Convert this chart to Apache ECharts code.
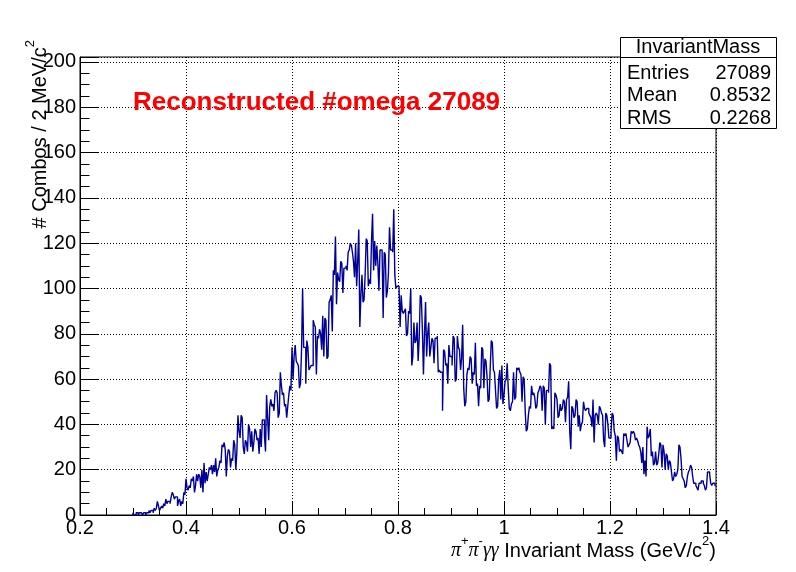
<!DOCTYPE html>
<html><head><meta charset="utf-8">
<script src="https://cdn.jsdelivr.net/npm/echarts@6/dist/echarts.min.js"></script>
<style>html,body{margin:0;padding:0;background:#fff}#c{width:796px;height:572px}</style>
</head><body><div id="c"></div>
<script>
// Histogram: 2 MeV bins starting at 0.300 GeV
const binStart = 0.300;
const binWidth = 0.002;
const counts_030_040 = [1,0,0,1,1,0,1,1,1,0, 1,1,0,1,1,2,1,2,2,1, 3,2,3,6,4,2,3,4,3,5, 4,7,5,6,6,5,8,10,9,7, 8,8,4,6,7,4,6,5,10,9];
const counts_040_050 = [16,12,11,13,12,16,15,17,10,13, 18,15,18,17,12,20,10,23,14,19, 15,18,21,20,22,18,22,19,25,17, 20,21,24,23,31,30,32,29,17,26, 29,28,21,25,24,33,31,20,28,44];
const counts_050_060 = [37,34,44,43,30,27,33,32,28,40, 38,30,37,28,32,38,37,33,34,27, 38,30,42,42,35,28,53,43,33,48, 51,48,49,46,54,55,54,43,45,63, 57,53,54,48,49,43,48,53,57,55];
const counts_060_070 = [74,60,70,75,68,67,66,56,58,73, 100,74,74,58,77,74,64,65,66,66, 86,84,83,62,79,78,82,80,73,88, 70,87,86,69,70,94,95,97,81,108, 106,123,93,107,104,103,112,111,98,109];
const counts_070_080 = [109,110,108,116,117,120,119,116,112,105, 120,101,112,126,83,97,106,94,95,106, 122,121,101,104,102,121,133,108,121,110, 119,111,99,117,117,116,87,116,115,96, 99,107,127,117,117,116,135,106,100,101];
const counts_080_090 = [101,100,83,97,90,89,90,91,79,80, 90,89,100,66,70,85,76,77,85,68, 78,97,96,82,62,80,94,70,80,85, 70,74,78,77,67,78,78,79,63,64, 63,63,46,73,72,66,67,58,75,70];
const counts_090_100 = [70,66,79,78,59,60,79,74,73,64, 69,84,56,48,50,62,65,64,70,69, 58,63,62,76,57,58,48,57,56,74, 73,56,69,68,61,50,51,65,77,76, 64,63,55,47,48,60,64,51,66,49];
const counts_100_110 = [53,59,60,67,56,47,46,49,50,63, 51,52,65,64,65,63,62,50,61,60, 46,37,38,44,48,47,57,53,54,52, 47,48,54,55,57,56,46,57,56,40, 55,55,54,67,66,38,39,38,54,53];
const counts_110_120 = [51,43,44,49,46,47,51,50,41,51, 52,59,37,29,48,47,43,44,51,50, 39,44,37,40,41,50,47,46,47,47, 45,44,43,39,51,32,44,45,44,40, 48,47,45,44,33,30,45,44,40,34];
const counts_120_130 = [34,37,45,44,37,35,24,35,34,28, 29,28,27,36,35,36,33,30,31,32, 37,36,37,36,33,34,33,31,30,28, 23,30,18,24,17,39,34,35,38,26, 28,22,23,28,22,23,27,32,31,21];
const counts_130_140 = [31,28,20,27,26,20,24,23,19,15, 16,19,17,18,20,31,30,25,17,16, 15,12,13,17,19,20,22,21,17,14, 14,13,12,11,14,14,15,15,14,13, 11,12,19,19,18,14,13,14,14,13];

const xAxisRange = [0.2, 1.4];
const yAxisRange = [0, 202.2];
const statsTitle = 'InvariantMass';
const statsLabels = ['Entries', 'Mean', 'RMS'];
const statsValues = ['27089', '0.8532', '0.2268'];
const plotLabel = 'Reconstructed #omega 27089';

const counts = [].concat(counts_030_040, counts_040_050, counts_050_060, counts_060_070,
  counts_070_080, counts_080_090, counts_090_100, counts_100_110, counts_110_120,
  counts_120_130, counts_130_140);

// step 'start': vertical at the bin low edge, then horizontal to the bin high edge
const histPoints = [[binStart, 0]];
counts.forEach((v, i) => histPoints.push([+(binStart + (i + 1) * binWidth).toFixed(3), v]));

const FONT = '"Liberation Sans", Arial, Helvetica, sans-serif';
const SERIF = '"Liberation Serif", "Times New Roman", serif';

const chart = echarts.init(document.getElementById('c'), null, {renderer: 'canvas'});

const statsGraphics = [
  {type: 'rect', z: 100, shape: {x: 620.5, y: 37.5, width: 156, height: 91},
   style: {fill: '#fff', stroke: '#000', lineWidth: 1}},
  {type: 'line', z: 101, shape: {x1: 620.5, y1: 57.5, x2: 776.5, y2: 57.5},
   style: {stroke: '#000', lineWidth: 1}},
  {type: 'text', z: 101, x: 698, y: 47.5, style: {text: statsTitle, font: '20px ' + FONT, fill: '#000', align: 'center', verticalAlign: 'middle'}}
];
statsLabels.forEach((lab, i) => {
  const y = 73 + i * 22.5;
  statsGraphics.push({type: 'text', z: 101, x: 627, y: y, style: {text: lab, font: '20px ' + FONT, fill: '#000', align: 'left', verticalAlign: 'middle'}});
  statsGraphics.push({type: 'text', z: 101, x: 771, y: y, style: {text: statsValues[i], font: '20px ' + FONT, fill: '#000', align: 'right', verticalAlign: 'middle'}});
});

const option = {
  animation: false,
  backgroundColor: '#fff',
  grid: {left: 80, right: 80, top: 57, bottom: 57, show: true, borderColor: '#000', borderWidth: 1, backgroundColor: 'transparent'},
  xAxis: {
    type: 'value', min: xAxisRange[0], max: xAxisRange[1], interval: 0.2,
    axisLine: {show: true, lineStyle: {color: '#000', width: 1}},
    axisTick: {show: true, inside: true, length: 14, lineStyle: {color: '#000'}},
    minorTick: {show: true, splitNumber: 4, length: 7, lineStyle: {color: '#000'}},
    axisLabel: {color: '#000', fontFamily: FONT, fontSize: 20, margin: 3},
    splitLine: {show: true, lineStyle: {color: '#000', type: [1, 2], width: 1}}
  },
  yAxis: {
    type: 'value', min: yAxisRange[0], max: yAxisRange[1], interval: 20,
    axisLine: {show: true, lineStyle: {color: '#000', width: 1}},
    axisTick: {show: true, inside: true, length: 19, lineStyle: {color: '#000'}},
    minorTick: {show: true, splitNumber: 4, length: 9.5, lineStyle: {color: '#000'}},
    axisLabel: {color: '#000', fontFamily: FONT, fontSize: 20, margin: 4,
      formatter: v => (Math.abs(v % 20) < 1e-6 ? String(v) : '')},
    splitLine: {show: true, lineStyle: {color: '#000', type: [1, 2], width: 1}}
  },
  graphic: [
    {type: 'text', z: 100, x: 133, y: 103,
     style: {text: plotLabel, font: 'bold 26px ' + FONT, fill: '#ff0000', align: 'left', verticalAlign: 'middle'}},
    {type: 'text', z: 100, x: 716, y: 548,
     style: {
       text: '{g|π}{s|+}{g|π}{s|-}{g|γγ}{n| Invariant Mass (GeV/c}{s|2}{n|)}',
       align: 'right', verticalAlign: 'middle',
       rich: {
         n: {fontFamily: FONT, fontSize: 20, fill: '#000', lineHeight: 26, verticalAlign: 'bottom'},
         g: {fontFamily: SERIF, fontStyle: 'italic', fontSize: 20, fill: '#000', lineHeight: 26, verticalAlign: 'bottom'},
         s: {fontFamily: FONT, fontSize: 13, fill: '#000', verticalAlign: 'top'}
       }
     }},
    {type: 'text', z: 100, x: 37, y: 40, rotation: Math.PI / 2,
     style: {
       text: '{n|# Combos / 2 MeV/c}{s|2}',
       align: 'right', verticalAlign: 'middle',
       rich: {
         n: {fontFamily: FONT, fontSize: 20, fill: '#000', lineHeight: 26, verticalAlign: 'bottom'},
         s: {fontFamily: FONT, fontSize: 13, fill: '#000', verticalAlign: 'top'}
       }
     }}
  ].concat(statsGraphics),
  series: [{
    type: 'line', step: 'start', symbol: 'none', showSymbol: false,
    data: histPoints,
    lineStyle: {color: '#000099', width: 1.4},
    clip: true, z: 5
  }]
};
chart.setOption(option);
</script>
</body></html>
